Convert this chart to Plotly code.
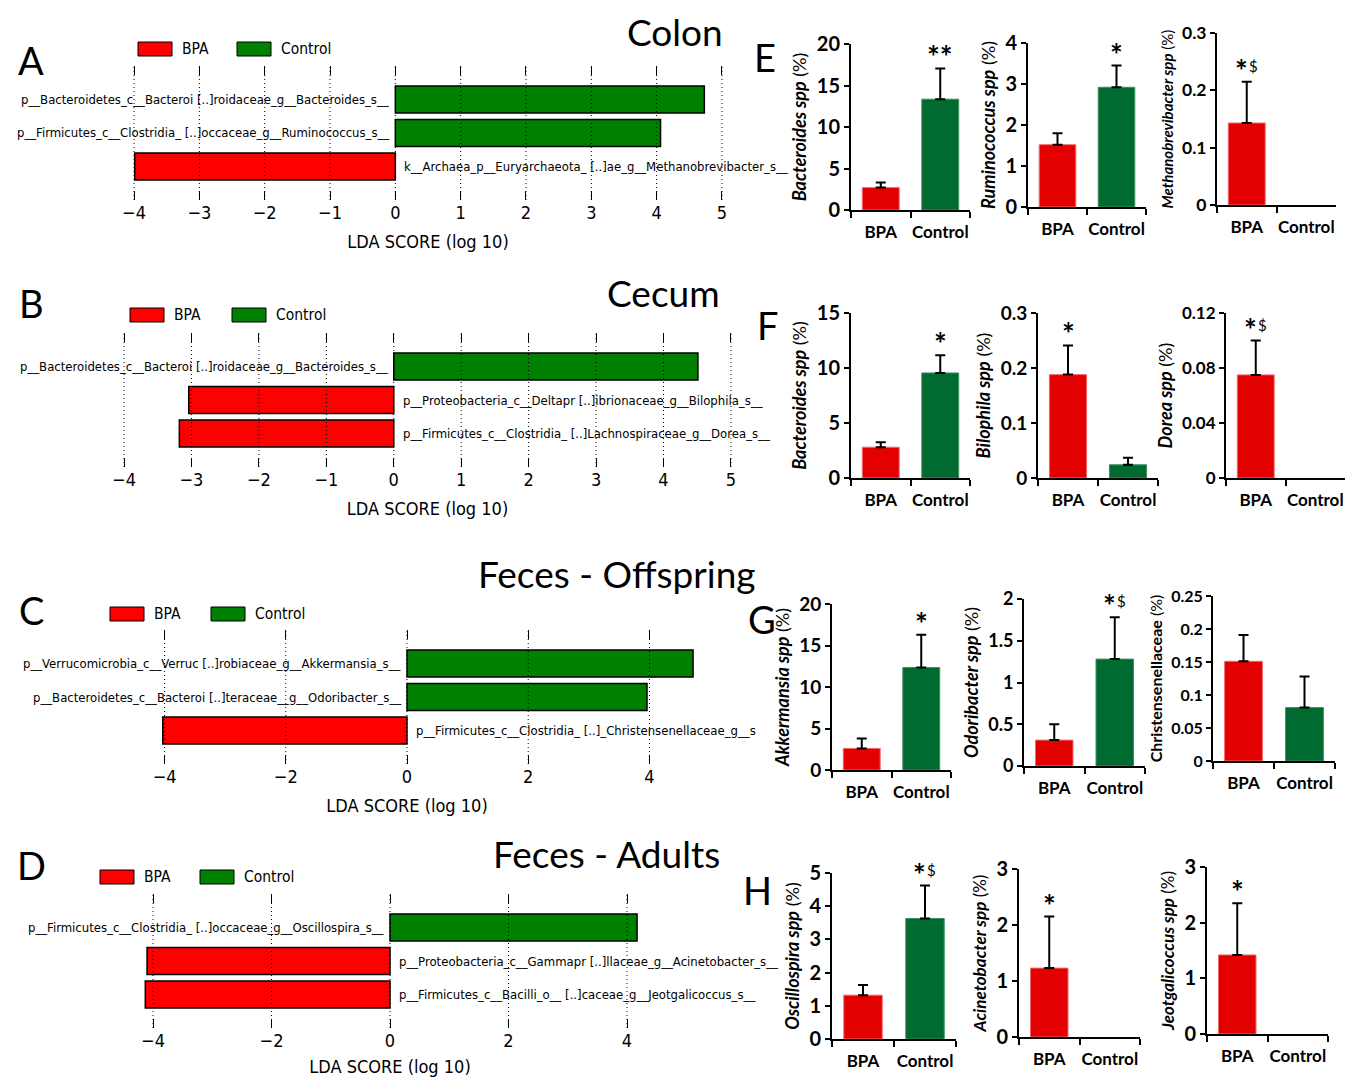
import plotly.graph_objects as go

W, H = 1347, 1077

# ---------------- LEfSe LDA data ----------------
colon_taxa = ["p__Bacteroidetes_c__Bacteroi [..]roidaceae_g__Bacteroides_s__",
              "p__Firmicutes_c__Clostridia_ [..]occaceae_g__Ruminococcus_s__",
              "k__Archaea_p__Euryarchaeota_ [..]ae_g__Methanobrevibacter_s__"]
colon_lda = [4.73, 4.06, -3.99]

cecum_taxa = ["p__Bacteroidetes_c__Bacteroi [..]roidaceae_g__Bacteroides_s__",
              "p__Proteobacteria_c__Deltapr [..]ibrionaceae_g__Bilophila_s__",
              "p__Firmicutes_c__Clostridia_ [..]Lachnospiraceae_g__Dorea_s__"]
cecum_lda = [4.51, -3.04, -3.18]

offspring_taxa = ["p__Verrucomicrobia_c__Verruc [..]robiaceae_g__Akkermansia_s__",
                  "p__Bacteroidetes_c__Bacteroi [..]teraceae__g__Odoribacter_s__",
                  "p__Firmicutes_c__Clostridia_ [..]_Christensenellaceae_g__s"]
offspring_lda = [4.72, 3.96, -4.03]

adults_taxa = ["p__Firmicutes_c__Clostridia_ [..]occaceae_g__Oscillospira_s__",
               "p__Proteobacteria_c__Gammapr [..]llaceae_g__Acinetobacter_s__",
               "p__Firmicutes_c__Bacilli_o__ [..]caceae_g__Jeotgalicoccus_s__"]
adults_lda = [4.17, -4.10, -4.13]

lda_ticks_full = [-4, -3, -2, -1, 0, 1, 2, 3, 4, 5]
lda_ticks_even = [-4, -2, 0, 2, 4]

# ---------------- relative abundance data (mean, SEM) ----------------
groups = ["BPA", "Control"]

colon_bacteroides = [2.7, 13.35];        colon_bacteroides_sem = [0.6, 3.7]
colon_ruminococcus = [1.52, 2.92];       colon_ruminococcus_sem = [0.28, 0.53]
colon_methanobrev = [0.143, 0.0];        colon_methanobrev_sem = [0.072, 0.0]

cecum_bacteroides = [2.8, 9.55];         cecum_bacteroides_sem = [0.45, 1.6]
cecum_bilophila = [0.188, 0.024];        cecum_bilophila_sem = [0.053, 0.013]
cecum_dorea = [0.075, 0.0];              cecum_dorea_sem = [0.025, 0.0]

off_akkermansia = [2.6, 12.35];          off_akkermansia_sem = [1.2, 3.95]
off_odoribacter = [0.31, 1.28];          off_odoribacter_sem = [0.19, 0.5]
off_christensen = [0.151, 0.081];        off_christensen_sem = [0.04, 0.047]

ad_oscillospira = [1.32, 3.63];          ad_oscillospira_sem = [0.31, 0.99]
ad_acinetobacter = [1.23, 0.0];          ad_acinetobacter_sem = [0.92, 0.0]
ad_jeotgalicoccus = [1.42, 0.0];         ad_jeotgalicoccus_sem = [0.93, 0.0]

# ---------------- styling ----------------
RED_LDA, GREEN_LDA = "#FF0000", "#008000"
RED, GREEN = "#E30000", "#006B30"
RED_EDGE, GREEN_EDGE = "#F26A6A", "#3E8F5E"
GROUP_COLORS = [(RED, RED_EDGE), (GREEN, GREEN_EDGE)]
LDA_FONT = "DejaVu Sans Condensed, Liberation Sans Narrow, DejaVu Sans, sans-serif"
BAR_FONT = "Lato, Open Sans, sans-serif"
HEAD_FONT = "Lato, Open Sans, sans-serif"


def fx(p):
    return p / W


def fy(p):
    return 1 - p / H


fig = go.Figure()
layout_axes = {}
annotations = []
shapes = []

lda_panels = [
    dict(taxa=colon_taxa, scores=colon_lda, xdom=(127.5, 728.5), ydom=(66, 200), rng=(-4.1, 5.1),
         ticks=lda_ticks_full, leg=(138, 237, 49), letter=("A", 31, 60), title=("Colon", 675, 31)),
    dict(taxa=cecum_taxa, scores=cecum_lda, xdom=(117.3, 737.7), ydom=(333, 467), rng=(-4.1, 5.1),
         ticks=lda_ticks_full, leg=(130, 232, 315), letter=("B", 31, 303), title=("Cecum", 663, 292)),
    dict(taxa=offspring_taxa, scores=offspring_lda, xdom=(116.1, 697.9), ydom=(630, 764), rng=(-4.8, 4.8),
         ticks=lda_ticks_even, leg=(110, 211, 614), letter=("C", 31, 610), title=("Feces - Offspring", 617, 573)),
    dict(taxa=adults_taxa, scores=adults_lda, xdom=(105.6, 674.4), ydom=(894, 1028), rng=(-4.8, 4.8),
         ticks=lda_ticks_even, leg=(100, 200, 877), letter=("D", 31, 865), title=("Feces - Adults", 606, 853)),
]

n = 0
for p in lda_panels:
    n += 1
    xn = "x" if n == 1 else f"x{n}"
    yn = "y" if n == 1 else f"y{n}"
    xk = "xaxis" if n == 1 else f"xaxis{n}"
    yk = "yaxis" if n == 1 else f"yaxis{n}"
    fig.add_trace(go.Bar(
        x=p["scores"], y=p["taxa"], orientation="h", xaxis=xn, yaxis=yn, width=0.8,
        marker=dict(color=[GREEN_LDA if s > 0 else RED_LDA for s in p["scores"]],
                    line=dict(color="black", width=1.5)),
        hoverinfo="skip", showlegend=False))
    layout_axes[xk] = dict(
        domain=[fx(p["xdom"][0]), fx(p["xdom"][1])], range=list(p["rng"]), anchor=yn,
        tickvals=p["ticks"], ticks="inside", ticklen=9, tickwidth=1, tickcolor="black",
        mirror="ticks", showline=False, showgrid=False, zeroline=False, automargin=False,
        tickfont=dict(family=LDA_FONT, size=18, color="black"),
        title=dict(text="LDA SCORE (log 10)", font=dict(family=LDA_FONT, size=18, color="black"), standoff=13))
    layout_axes[yk] = dict(
        domain=[fy(p["ydom"][1]), fy(p["ydom"][0])], anchor=xn, type="category",
        categoryorder="array", categoryarray=p["taxa"], range=[len(p["taxa"]), -1],
        visible=False, automargin=False)
    for t in p["ticks"]:
        shapes.append(dict(type="line", xref=xn, yref=f"{yn} domain", x0=t, x1=t, y0=0, y1=1,
                           line=dict(color="black", width=1, dash="1px,3px"), layer="above"))
    for taxon, s in zip(p["taxa"], p["scores"]):
        annotations.append(dict(x=0, y=taxon, xref=xn, yref=yn, text=taxon, showarrow=False,
                                xanchor="right" if s > 0 else "left", xshift=-4 if s > 0 else 7,
                                font=dict(family=LDA_FONT, size=13, color="black")))
    # legend
    lx, gx, ly = p["leg"]
    for x0, col, lab in [(lx, RED_LDA, "BPA"), (gx, GREEN_LDA, "Control")]:
        shapes.append(dict(type="rect", xref="paper", yref="paper", x0=fx(x0), x1=fx(x0 + 34),
                           y0=fy(ly + 7), y1=fy(ly - 7), fillcolor=col, line=dict(color="black", width=1)))
        annotations.append(dict(x=fx(x0 + 42), y=fy(ly), xref="paper", yref="paper", text=lab,
                                showarrow=False, xanchor="left", yanchor="middle",
                                font=dict(family=LDA_FONT, size=15.5, color="black")))
    L, lxp, lyp = p["letter"]
    annotations.append(dict(x=fx(lxp), y=fy(lyp), xref="paper", yref="paper", text=L, showarrow=False,
                            xanchor="center", yanchor="middle",
                            font=dict(family=HEAD_FONT, size=38, color="black")))
    T, txp, typ = p["title"]
    annotations.append(dict(x=fx(txp), y=fy(typ), xref="paper", yref="paper", text=T, showarrow=False,
                            xanchor="center", yanchor="middle",
                            font=dict(family=HEAD_FONT, size=37, color="black")))


def ytitle(genus, italic=True):
    if italic:
        return f"<b><i>{genus}</i></b> (%)"
    return f"<b>{genus}</b> (%)"


bar_panels = [
    dict(v=colon_bacteroides, e=colon_bacteroides_sem, xdom=(851, 970), ydom=(44, 210), ymax=20, dt=5,
         t=ytitle("Bacteroides spp"), ts=18, tf=20, sig=[(1, "**")]),
    dict(v=colon_ruminococcus, e=colon_ruminococcus_sem, xdom=(1028, 1146), ydom=(43, 207), ymax=4, dt=1,
         t=ytitle("Ruminococcus spp"), ts=18, tf=20, sig=[(1, "*")]),
    dict(v=colon_methanobrev, e=colon_methanobrev_sem, xdom=(1217, 1336), ydom=(33, 205), ymax=0.3, dt=0.1,
         t=ytitle("Methanobrevibacter spp"), ts=15, tf=17.5, sig=[(0, "*$")]),
    dict(v=cecum_bacteroides, e=cecum_bacteroides_sem, xdom=(851, 970), ydom=(313, 478), ymax=15, dt=5,
         t=ytitle("Bacteroides spp"), ts=18, tf=20, sig=[(1, "*")]),
    dict(v=cecum_bilophila, e=cecum_bilophila_sem, xdom=(1038, 1158), ydom=(313, 478), ymax=0.3, dt=0.1,
         t=ytitle("Bilophila spp"), ts=18, tf=19, sig=[(0, "*")]),
    dict(v=cecum_dorea, e=cecum_dorea_sem, xdom=(1226, 1345), ydom=(313, 478), ymax=0.12, dt=0.04,
         t=ytitle("Dorea spp"), ts=18, tf=17, sig=[(0, "*$")]),
    dict(v=off_akkermansia, e=off_akkermansia_sem, xdom=(832, 951), ydom=(604, 770), ymax=20, dt=5,
         t=ytitle("Akkermansia spp"), ts=18, tf=19, sig=[(1, "*")]),
    dict(v=off_odoribacter, e=off_odoribacter_sem, xdom=(1024, 1145), ydom=(599, 766), ymax=2, dt=0.5,
         t=ytitle("Odoribacter spp"), ts=18, tf=18, sig=[(1, "*$")]),
    dict(v=off_christensen, e=off_christensen_sem, xdom=(1213, 1335), ydom=(596, 761), ymax=0.25, dt=0.05,
         t=ytitle("Christensenellaceae", italic=False), ts=16, tf=16, sig=[]),
    dict(v=ad_oscillospira, e=ad_oscillospira_sem, xdom=(832, 956), ydom=(873, 1039), ymax=5, dt=1,
         t=ytitle("Oscillospira spp"), ts=18, tf=20, sig=[(1, "*$")]),
    dict(v=ad_acinetobacter, e=ad_acinetobacter_sem, xdom=(1019, 1140), ydom=(869, 1037), ymax=3, dt=1,
         t=ytitle("Acinetobacter spp"), ts=17, tf=20, sig=[(0, "*")]),
    dict(v=ad_jeotgalicoccus, e=ad_jeotgalicoccus_sem, xdom=(1207, 1328), ydom=(867, 1034), ymax=3, dt=1,
         t=ytitle("Jeotgalicoccus spp"), ts=17, tf=20, sig=[(0, "*")]),
]

for p in bar_panels:
    n += 1
    xn, yn = f"x{n}", f"y{n}"
    for g, v, e, (fc, ec) in zip(groups, p["v"], p["e"], GROUP_COLORS):
        fig.add_trace(go.Bar(
            x=[g], y=[v], xaxis=xn, yaxis=yn, width=0.62,
            marker=dict(color=fc, line=dict(color=ec, width=1 if v > 0 else 0)),
            error_y=dict(type="data", array=[e], arrayminus=[0], symmetric=False, visible=v > 0,
                         color="black", thickness=2, width=5),
            hoverinfo="skip", showlegend=False))
    layout_axes[f"xaxis{n}"] = dict(
        domain=[fx(p["xdom"][0]), fx(p["xdom"][1])], anchor=yn, type="category",
        categoryorder="array", categoryarray=groups, range=[-0.5, len(groups) - 0.5],
        showline=True, linecolor="black", linewidth=2, ticks="outside", tickson="boundaries",
        ticklen=6, tickwidth=2, tickcolor="black", showgrid=False, zeroline=False, automargin=False,
        ticklabelstandoff=6, tickangle=0,
        tickfont=dict(family=BAR_FONT, size=17, color="black", weight="bold"))
    nt = int(round(p["ymax"] / p["dt"]))
    layout_axes[f"yaxis{n}"] = dict(
        domain=[fy(p["ydom"][1]), fy(p["ydom"][0])], anchor=xn, range=[0, p["ymax"]],
        tickvals=[round(i * p["dt"], 4) for i in range(nt + 1)],
        showline=True, linecolor="black", linewidth=2, ticks="outside", ticklen=5, tickwidth=2,
        tickcolor="black", showgrid=False, zeroline=False, automargin=False,
        tickfont=dict(family=BAR_FONT, size=p["tf"], color="black", weight="bold"),
        title=dict(text=p["t"], font=dict(family=BAR_FONT, size=p["ts"], color="black"), standoff=5))
    for idx, txt in p["sig"]:
        ytop = p["v"][idx] + p["e"][idx]
        stars = txt.rstrip("$")
        has_dollar = txt.endswith("$")
        annotations.append(dict(x=groups[idx], y=ytop, xref=xn, yref=yn, text=stars,
                                showarrow=False, xanchor="center", yanchor="bottom", yshift=-8,
                                xshift=-5 if has_dollar else 0,
                                font=dict(family=BAR_FONT, size=30, color="black", weight="bold")))
        if has_dollar:
            annotations.append(dict(x=groups[idx], y=ytop, xref=xn, yref=yn, text="$",
                                    showarrow=False, xanchor="left", yanchor="bottom", yshift=5,
                                    xshift=0, font=dict(family=BAR_FONT, size=15, color="black")))

# panel letters on the right side
for L, lxp, lyp in [("E", 765, 57), ("F", 768, 325), ("G", 762, 619), ("H", 757, 890)]:
    annotations.append(dict(x=fx(lxp), y=fy(lyp), xref="paper", yref="paper", text=L, showarrow=False,
                            xanchor="center", yanchor="middle",
                            font=dict(family=HEAD_FONT, size=38, color="black")))

fig.update_layout(
    width=W, height=H, margin=dict(l=0, r=0, t=0, b=0), template="none",
    paper_bgcolor="white", plot_bgcolor="rgba(0,0,0,0)", showlegend=False,
    barmode="overlay", annotations=annotations, shapes=shapes, **layout_axes)

fig.write_html("out.html", config={"displayModeBar": False},
               post_script="document.body.style.margin='0px';document.body.style.overflow='hidden';")
